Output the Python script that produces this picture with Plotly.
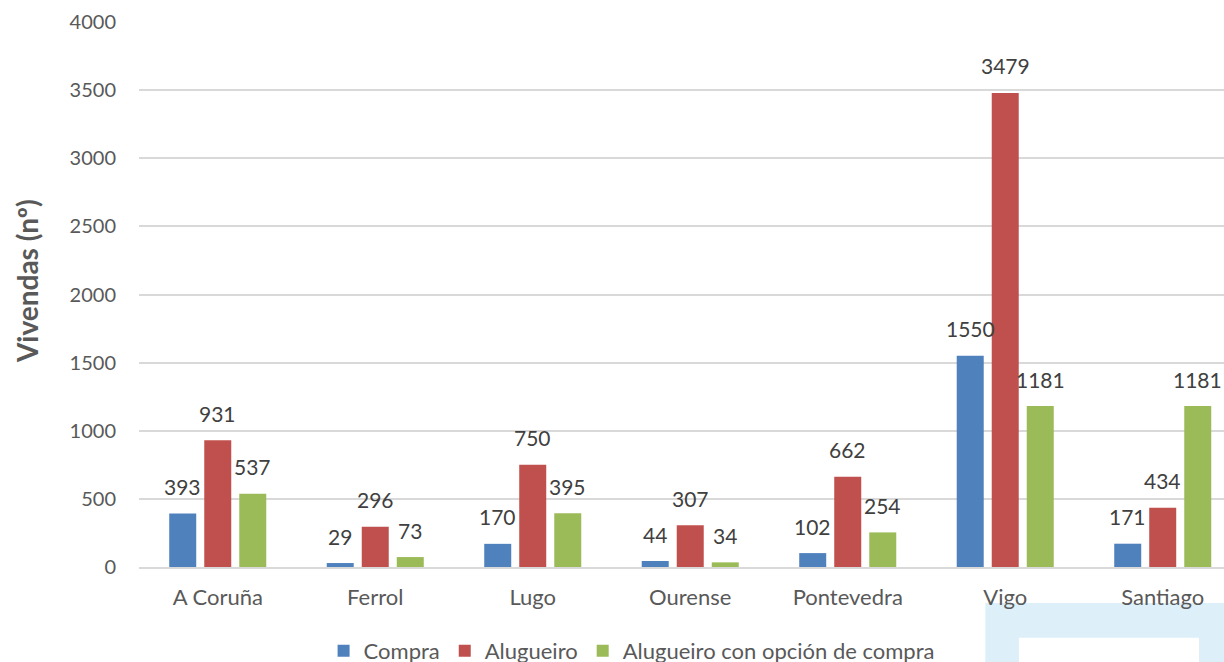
import plotly.graph_objects as go

# data
cidades = ["A Coruña", "Ferrol", "Lugo", "Ourense", "Pontevedra", "Vigo", "Santiago"]
compra = [393, 29, 170, 44, 102, 1550, 171]
alugueiro = [931, 296, 750, 307, 662, 3479, 434]
alugueiro_opcion = [537, 73, 395, 34, 254, 1181, 1181]

series = [
    ("Compra", compra, "#4F81BD"),
    ("Alugueiro", alugueiro, "#C0504D"),
    ("Alugueiro con opción de compra", alugueiro_opcion, "#9BBB59"),
]

FONT = "Lato"
fig = go.Figure()
for name, vals, col in series:
    fig.add_trace(go.Bar(x=cidades, y=vals, name=name, marker_color=col,
                         marker_line_width=0))

# data labels sit a bit above the bar tops, like the excel original
offsets = [-0.222, 0, 0.222]
for (name, vals, col), off in zip(series, offsets):
    for i, v in enumerate(vals):
        fig.add_annotation(x=i + off, y=v, xref="x", yref="y", text=str(v),
                           showarrow=False, yshift=27, yanchor="middle",
                           font=dict(family=FONT, size=21, color="#404040"))

# y title as annotation, sits a little above the plot middle
fig.add_annotation(x=-0.103, y=0.525, xref="paper", yref="paper",
                   text="<b>Vivendas (nº)</b>", textangle=-90, showarrow=False,
                   xanchor="center", yanchor="middle",
                   font=dict(family=FONT, size=28, color="#595959"))

# light blue decoration in the bottom-right corner
fig.add_shape(type="rect", xref="paper", yref="paper", x0=0.780, x1=1.2,
              y0=-0.066, y1=-0.3, fillcolor="#DDEFF8", line_width=0, layer="below")
fig.add_shape(type="rect", xref="paper", yref="paper", x0=0.811, x1=0.977,
              y0=-0.130, y1=-0.3, fillcolor="white", line_width=0, layer="below")

fig.update_layout(
    width=1224, height=676,
    margin=dict(l=139, r=0, t=22, b=109),
    paper_bgcolor="white", plot_bgcolor="white",
    barmode="group", bargap=0.333, bargroupgap=0.229,
    font=dict(family=FONT, size=20, color="#595959"),
    showlegend=True,
    legend=dict(orientation="h", x=0.454, xanchor="center", y=-0.1927, yanchor="bottom",
                font=dict(family=FONT, size=22, color="#595959"),
                itemwidth=30, tracegroupgap=0, borderwidth=0),
    xaxis=dict(range=[-0.5, 6.389], showgrid=False, ticks="", ticklabelstandoff=10,
               automargin=False,
               tickfont=dict(family=FONT, size=22, color="#595959"),
               showline=True, linecolor="#D9D9D9", linewidth=1.5),
    yaxis=dict(range=[0, 4000], dtick=500, showgrid=True, gridcolor="#D9D9D9",
               gridwidth=1.5, zeroline=False, ticks="", ticklabelstandoff=22,
               automargin=False,
               tickfont=dict(family=FONT, size=20, color="#595959")),
)

# no body margin / scrollbars so the chart sits at 0,0 in the window
fig.write_html("out.html", config={"displayModeBar": False},
               post_script="document.body.style.margin='0';"
                           "document.body.style.overflow='hidden';")
